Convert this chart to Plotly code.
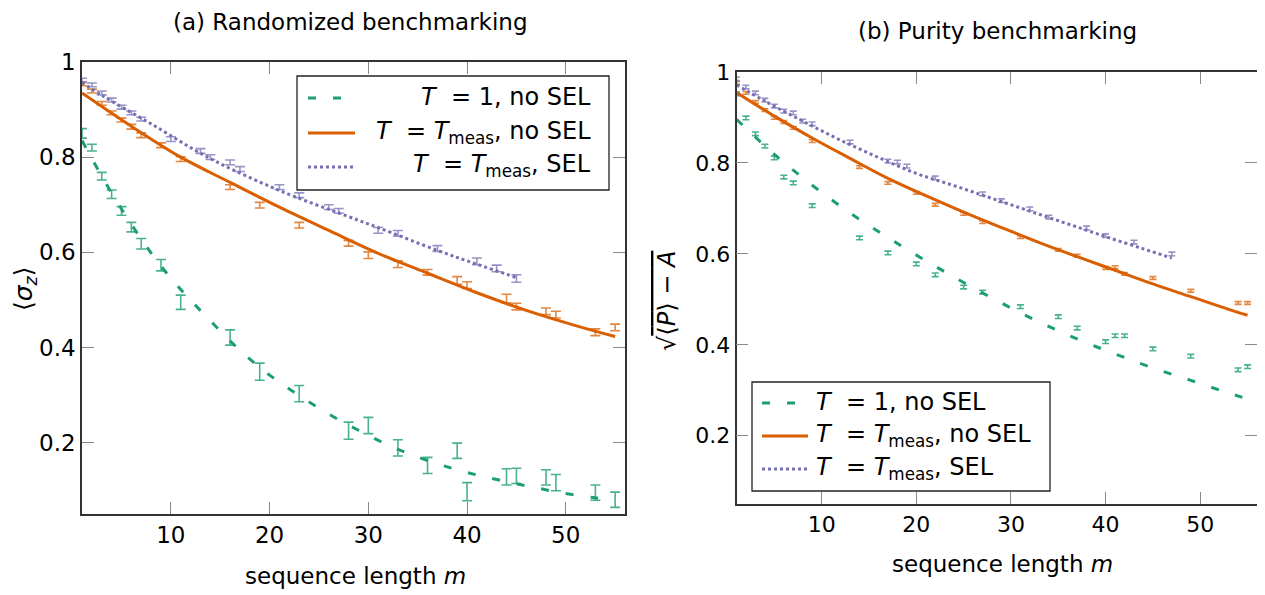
import plotly.graph_objects as go

W, H = 1265, 595
FONT = "DejaVu Sans"
GREEN, ORANGE, PURPLE = "#1b9e77", "#d95f02", "#7570b3"
GREEN_E, ORANGE_E, PURPLE_E = "rgba(27,158,119,0.8)", "rgba(217,95,2,0.75)", "rgba(117,112,179,0.75)"

# ---------------- (a) Randomized benchmarking ----------------
a_m_t1 = [1, 2, 3, 4, 5, 6, 7, 9, 11, 16, 19, 23, 28, 30, 33, 36, 39, 40, 44, 45, 48, 49, 53, 55]
a_y_t1 = [0.850, 0.820, 0.760, 0.722, 0.687, 0.653, 0.618, 0.573, 0.495, 0.421, 0.349, 0.303,
          0.225, 0.236, 0.189, 0.152, 0.183, 0.097, 0.128, 0.130, 0.127, 0.116, 0.095, 0.080]
a_e_t1 = [0.010, 0.007, 0.008, 0.009, 0.009, 0.010, 0.011, 0.012, 0.015, 0.016, 0.018, 0.017,
          0.018, 0.017, 0.017, 0.017, 0.016, 0.019, 0.017, 0.016, 0.016, 0.017, 0.016, 0.016]

a_m_meas = [1, 2, 3, 4, 5, 6, 7, 9, 11, 16, 19, 23, 28, 30, 33, 36, 39, 40, 44, 45, 48, 49, 53, 55]
a_y_meas = [0.954, 0.939, 0.913, 0.893, 0.878, 0.864, 0.846, 0.825, 0.796, 0.737, 0.699, 0.657,
            0.619, 0.594, 0.575, 0.558, 0.541, 0.531, 0.503, 0.486, 0.476, 0.469, 0.432, 0.442]
a_e_meas = [0.004, 0.004, 0.004, 0.004, 0.004, 0.005, 0.005, 0.005, 0.005, 0.005, 0.006, 0.006,
            0.006, 0.007, 0.007, 0.006, 0.008, 0.007, 0.009, 0.007, 0.007, 0.007, 0.007, 0.007]

a_m_sel = [1, 2, 3, 4, 5, 6, 7, 10, 13, 14, 16, 17, 21, 23, 26, 27, 31, 33, 37, 41, 43, 45]
a_y_sel = [0.962, 0.952, 0.935, 0.920, 0.905, 0.893, 0.880, 0.838, 0.813, 0.800, 0.789, 0.775,
           0.737, 0.720, 0.695, 0.687, 0.646, 0.640, 0.608, 0.581, 0.566, 0.545]
a_e_sel = [0.004, 0.004, 0.004, 0.004, 0.004, 0.004, 0.004, 0.005, 0.005, 0.005, 0.005, 0.005,
           0.005, 0.005, 0.005, 0.005, 0.006, 0.006, 0.006, 0.007, 0.007, 0.008]

a_fit_t1_m = [1, 3, 5, 7, 9, 11, 14, 17, 20, 23, 26, 29, 32, 35, 38, 41, 44, 47, 50, 53, 55]
a_fit_t1_y = [0.835, 0.760, 0.691, 0.628, 0.571, 0.522, 0.456, 0.394, 0.342, 0.299, 0.260,
              0.226, 0.195, 0.170, 0.149, 0.132, 0.118, 0.105, 0.093, 0.084, 0.079]
a_fit_meas_m = [1, 6, 11, 16, 21, 26, 31, 36, 41, 46, 51, 55]
a_fit_meas_y = [0.935, 0.865, 0.800, 0.747, 0.695, 0.646, 0.598, 0.556, 0.515, 0.478, 0.446, 0.423]
a_fit_sel_m = [1, 3, 8, 14, 21, 28, 31, 37, 41, 45]
a_fit_sel_y = [0.957, 0.930, 0.870, 0.797, 0.730, 0.675, 0.652, 0.604, 0.575, 0.547]

# ---------------- (b) Purity benchmarking ----------------
b_m = [1, 2, 3, 4, 5, 6, 7, 9, 14, 17, 20, 22, 25, 27, 31, 35, 37, 40, 41, 42, 45, 49, 54, 55]
b_y_t1 = [0.952, 0.899, 0.864, 0.837, 0.811, 0.769, 0.756, 0.706, 0.635, 0.602, 0.578, 0.554,
          0.527, 0.516, 0.484, 0.462, 0.437, 0.407, 0.420, 0.420, 0.391, 0.375, 0.345, 0.352]
b_y_meas = [0.976, 0.954, 0.934, 0.916, 0.899, 0.890, 0.877, 0.848, 0.791, 0.756, 0.734, 0.708,
            0.688, 0.670, 0.637, 0.609, 0.596, 0.569, 0.571, 0.556, 0.547, 0.519, 0.492, 0.492]
b_e_t1 = [0.004] * len(b_m)
b_e_meas = [0.003] * len(b_m)

b_m_sel = [1, 2, 3, 4, 5, 6, 7, 8, 9, 13, 17, 18, 19, 22, 27, 29, 32, 34, 38, 40, 43, 47]
b_y_sel = [0.985, 0.967, 0.954, 0.938, 0.925, 0.914, 0.910, 0.892, 0.886, 0.846, 0.804, 0.802,
           0.793, 0.767, 0.732, 0.717, 0.699, 0.681, 0.657, 0.640, 0.626, 0.600]
b_e_sel = [0.004] * len(b_m_sel)

b_fit_t1_m = [1, 5, 9, 13, 17, 21, 25, 29, 33, 37, 41, 45, 49, 53, 55]
b_fit_t1_y = [0.896, 0.819, 0.751, 0.690, 0.636, 0.585, 0.537, 0.492, 0.450, 0.413, 0.380,
              0.349, 0.322, 0.294, 0.281]
b_fit_meas_m = [1, 5, 9, 13, 17, 21, 25, 29, 33, 37, 41, 45, 49, 53, 55]
b_fit_meas_y = [0.955, 0.903, 0.855, 0.810, 0.766, 0.728, 0.692, 0.658, 0.625, 0.594, 0.564,
                0.534, 0.506, 0.478, 0.465]
b_fit_sel_m = [1, 4, 8, 12, 16, 20, 24, 28, 32, 36, 40, 44, 47]
b_fit_sel_y = [0.972, 0.936, 0.892, 0.850, 0.812, 0.777, 0.750, 0.722, 0.694, 0.666, 0.638,
               0.611, 0.591]

x_ticks = [10, 20, 30, 40, 50]
y_ticks = [0.2, 0.4, 0.6, 0.8, 1.0]
y_tick_text = ["0.2", "0.4", "0.6", "0.8", "1"]

# -------- layout geometry (screen pixels; the page body adds an 8px offset) --------
OFF = 8

def px(x):
    return (x - OFF) / W

def py(y):
    return 1 - (y - OFF) / H

A_BOX = (82, 625, 62, 514)     # left, right, top, bottom
B_BOX = (736.5, 1257, 72, 504)

DASH_G = "8px,17px"
DOT_P = "3px,3px"

fig = go.Figure()

def err_trace(m, y, e, color, xa, ya, w):
    return go.Scatter(x=m, y=y, mode="markers", xaxis=xa, yaxis=ya, showlegend=False,
                      marker=dict(size=0.1, color="rgba(0,0,0,0)"),
                      error_y=dict(type="data", array=e, visible=True, color=color,
                                   thickness=1.6, width=w),
                      hoverinfo="skip")

def fit_trace(m, y, color, dash, xa, ya):
    return go.Scatter(x=m, y=y, mode="lines", xaxis=xa, yaxis=ya, showlegend=False,
                      line=dict(color=color, width=3, dash=dash, shape="spline", smoothing=1.0),
                      hoverinfo="skip")

# panel (a)
fig.add_trace(err_trace(a_m_t1, a_y_t1, a_e_t1, GREEN_E, "x", "y", 5))
fig.add_trace(err_trace(a_m_meas, a_y_meas, a_e_meas, ORANGE_E, "x", "y", 5))
fig.add_trace(err_trace(a_m_sel, a_y_sel, a_e_sel, PURPLE_E, "x", "y", 5))
fig.add_trace(fit_trace(a_fit_t1_m, a_fit_t1_y, GREEN, DASH_G, "x", "y"))
fig.add_trace(fit_trace(a_fit_meas_m, a_fit_meas_y, ORANGE, "solid", "x", "y"))
fig.add_trace(fit_trace(a_fit_sel_m, a_fit_sel_y, PURPLE, DOT_P, "x", "y"))

# panel (b)
fig.add_trace(err_trace(b_m, b_y_t1, b_e_t1, GREEN_E, "x2", "y2", 3.5))
fig.add_trace(err_trace(b_m, b_y_meas, b_e_meas, ORANGE_E, "x2", "y2", 3.5))
fig.add_trace(err_trace(b_m_sel, b_y_sel, b_e_sel, PURPLE_E, "x2", "y2", 3.5))
fig.add_trace(fit_trace(b_fit_t1_m, b_fit_t1_y, GREEN, DASH_G, "x2", "y2"))
fig.add_trace(fit_trace(b_fit_meas_m, b_fit_meas_y, ORANGE, "solid", "x2", "y2"))
fig.add_trace(fit_trace(b_fit_sel_m, b_fit_sel_y, PURPLE, DOT_P, "x2", "y2"))

def xaxis(box, size, standoff, anchor):
    return dict(domain=[px(box[0]), px(box[1])], range=[1, 56], anchor=anchor,
                tickvals=x_ticks, ticks="inside", ticklen=12, tickwidth=1, tickcolor="#8a8a8a",
                showline=True, linecolor="#333333", linewidth=1.5, mirror="allticks",
                showgrid=False, zeroline=False, ticklabelstandoff=standoff, automargin=False,
                tickfont=dict(family=FONT, size=size, color="black"))

def yaxis(box, size, standoff, anchor):
    return dict(domain=[py(box[3]), py(box[2])], range=[0.05, 1.0], anchor=anchor,
                tickvals=y_ticks, ticktext=y_tick_text, ticks="inside", ticklen=12, tickwidth=1,
                tickcolor="#8a8a8a", showline=True, linecolor="#333333", linewidth=1.5,
                mirror="allticks", showgrid=False, zeroline=False, ticklabelstandoff=standoff,
                automargin=False, tickfont=dict(family=FONT, size=size, color="black"))

fig.update_layout(
    width=W, height=H, margin=dict(l=0, r=0, t=0, b=0, autoexpand=False),
    paper_bgcolor="white", plot_bgcolor="white", showlegend=False,
    xaxis=xaxis(A_BOX, 23, 0, "y"), yaxis=yaxis(A_BOX, 23, 0, "x"),
    xaxis2=xaxis(B_BOX, 22, 0, "y2"), yaxis2=yaxis(B_BOX, 22, 0, "x2"),
    font=dict(family=FONT, color="black"),
)

ann = []
def text(x, y, s, size, xanchor="center", angle=0):
    ann.append(dict(x=px(x), y=py(y), xref="paper", yref="paper", text=s, showarrow=False,
                    xanchor=xanchor, yanchor="middle", textangle=angle,
                    font=dict(family=FONT, size=size, color="black")))

text(350, 22, "(a) Randomized benchmarking", 23)
text(997, 31, "(b) Purity benchmarking", 23)
text(355, 576, "sequence length <i>m</i>", 23)
text(1002, 564, "sequence length <i>m</i>", 23)
text(25, 289, "⟨<i>σ</i><sub><i>z</i></sub>⟩", 25, angle=-90)
text(667, 301, "√<span style=\"text-decoration:overline\">⟨<i>P</i>⟩ − <i>A</i></span>", 24, angle=-90)

NB = "\u00a0"
labels = [f"<i>T</i>{NB} = 1, no SEL",
          f"<i>T</i>{NB} = <i>T</i><sub>meas</sub>, no SEL",
          f"<i>T</i>{NB} = <i>T</i><sub>meas</sub>, SEL"]
styles = [(GREEN, DASH_G), (ORANGE, "solid"), (PURPLE, DOT_P)]

shapes = []
def legend_box(x0, x1, y0, y1):
    shapes.append(dict(type="rect", xref="paper", yref="paper", x0=px(x0), x1=px(x1),
                       y0=py(y1), y1=py(y0), line=dict(color="#222222", width=1.3),
                       fillcolor="white", layer="above"))

def sample(x0, x1, y, color, dash):
    shapes.append(dict(type="line", xref="paper", yref="paper", x0=px(x0), x1=px(x1),
                       y0=py(y), y1=py(y), line=dict(color=color, width=3, dash=dash),
                       layer="above"))

# legend (a): right-aligned text
legend_box(297, 609, 76, 190)
for i, (lab, (c, d)) in enumerate(zip(labels, styles)):
    yy = [98, 133, 167][i]
    sample(308, 355, yy, c, d)
    text(593, yy - 1, lab, 24, xanchor="right")

# legend (b): left-aligned text
legend_box(752, 1050, 382, 491)
for i, (lab, (c, d)) in enumerate(zip(labels, styles)):
    yy = [403, 436, 469][i]
    sample(762, 808, yy, c, d)
    text(814, yy - 1, lab, 24, xanchor="left")

fig.update_layout(annotations=ann, shapes=shapes)
fig.write_html("out.html")
